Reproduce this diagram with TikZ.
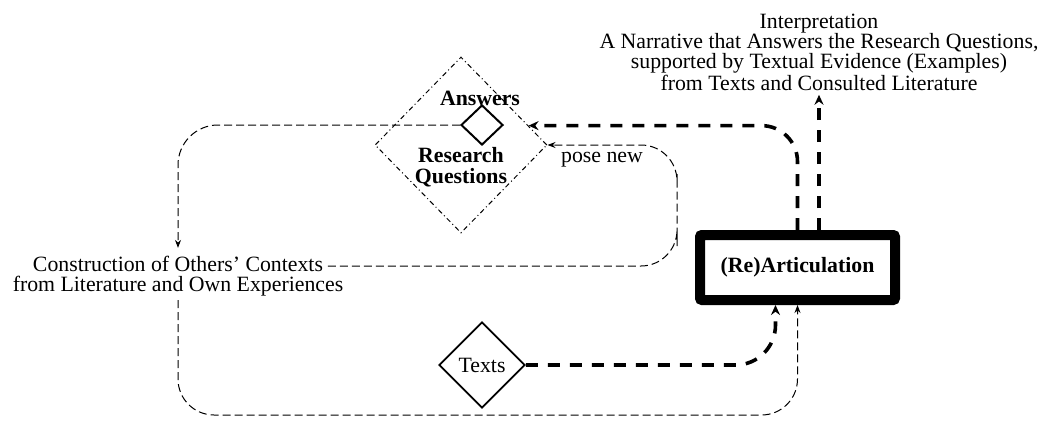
\documentclass[tikz,border=0pt]{standalone}
\usepackage{fontspec}
\setmainfont{Liberation Serif}
\usetikzlibrary{shapes.geometric,arrows.meta,calc}
\begin{document}
\begin{tikzpicture}[x=0.5pt,y=-0.5pt,
  txt/.style={font=\fontsize{10.9}{10}\selectfont, inner sep=2pt, align=center},
  linetxt/.style={font=\fontsize{10.9}{10}\selectfont, inner sep=0.2pt,
    text height=7.5pt, text depth=1.8pt},
  btxt/.style={font=\fontsize{10.9}{10.5}\selectfont\bfseries, inner sep=2pt, align=center},
  thindash/.style={line width=0.5pt, dash pattern=on 4pt off 2pt},
  thickdash/.style={line width=1.8pt, dash pattern=on 6pt off 5pt},
  thinarrow/.style={-{Stealth[length=4pt,width=3pt]}},
  thickarrow/.style={-{Stealth[length=5pt,width=4.5pt]}},
  rqdiamond/.style={draw, diamond, aspect=1, inner sep=0pt, line width=0.5pt,
    dash pattern=on 2.5pt off 1.5pt on 0.5pt off 1.5pt},
  smalldiamond/.style={draw, diamond, aspect=1, inner sep=0pt, line width=1pt},
  textdiamond/.style={draw, diamond, aspect=1, inner sep=0pt, line width=0.9pt,
    font=\fontsize{10.9}{10}\selectfont},
  artbox/.style={draw, line width=5pt, rounded corners=1pt,
    font=\fontsize{10.9}{10}\selectfont\bfseries}
]
\useasboundingbox (0,0) rectangle (1041,423);

% nodes
\node[rqdiamond, minimum width=86pt, minimum height=88pt] (bigd) at (461,145) {};
\node[smalldiamond, minimum width=21pt, minimum height=20pt] (ans) at (482,125) {};
\node[btxt] (anslbl) at (480,98) {Answers};
\node[btxt] (rqlbl) at (461,167) {Research\\Questions};
\node[textdiamond, minimum width=43pt, minimum height=43pt] (texts) at (482,365) {Texts};
\node[artbox, minimum width=97.5pt, minimum height=32.5pt] (art) at (797.5,267.5) {(Re)Articulation};
\node[txt] (interp) at (819,52) {Interpretation\\A Narrative that Answers the Research Questions,\\supported by Textual Evidence (Examples)\\from Texts and Consulted Literature};
\node[linetxt] (cA) at (178,266) {Construction of Others’ Contexts};
\node[linetxt] (cB) at (178,286) {from Literature and Own Experiences};
\node[txt, inner sep=0pt] (posenew) at (602,160) {pose new};

\coordinate (loopc) at (677,210);
\coordinate (botc) at (480,415);

% connectors
\draw[thindash, thinarrow, rounded corners=20pt, shorten >=4pt] (ans.west) -| (cA.north);
\draw[thindash, thinarrow, rounded corners=18pt, shorten <=2pt] (cA.east) -| (loopc) |- (bigd.east);
\draw[thindash, thinarrow, rounded corners=18pt, shorten <=2pt] (cB.south) |- (botc) -| (art.south);
\draw[thickdash, thickarrow, rounded corners=20pt] (texts.east) -| ([xshift=-11pt]art.south);
\draw[thickdash, thickarrow, rounded corners=18pt] (art.north) |- (bigd.16);
\draw[thickdash, thickarrow] (art.north -| interp.south) -- (interp.south);
\end{tikzpicture}
\end{document}
